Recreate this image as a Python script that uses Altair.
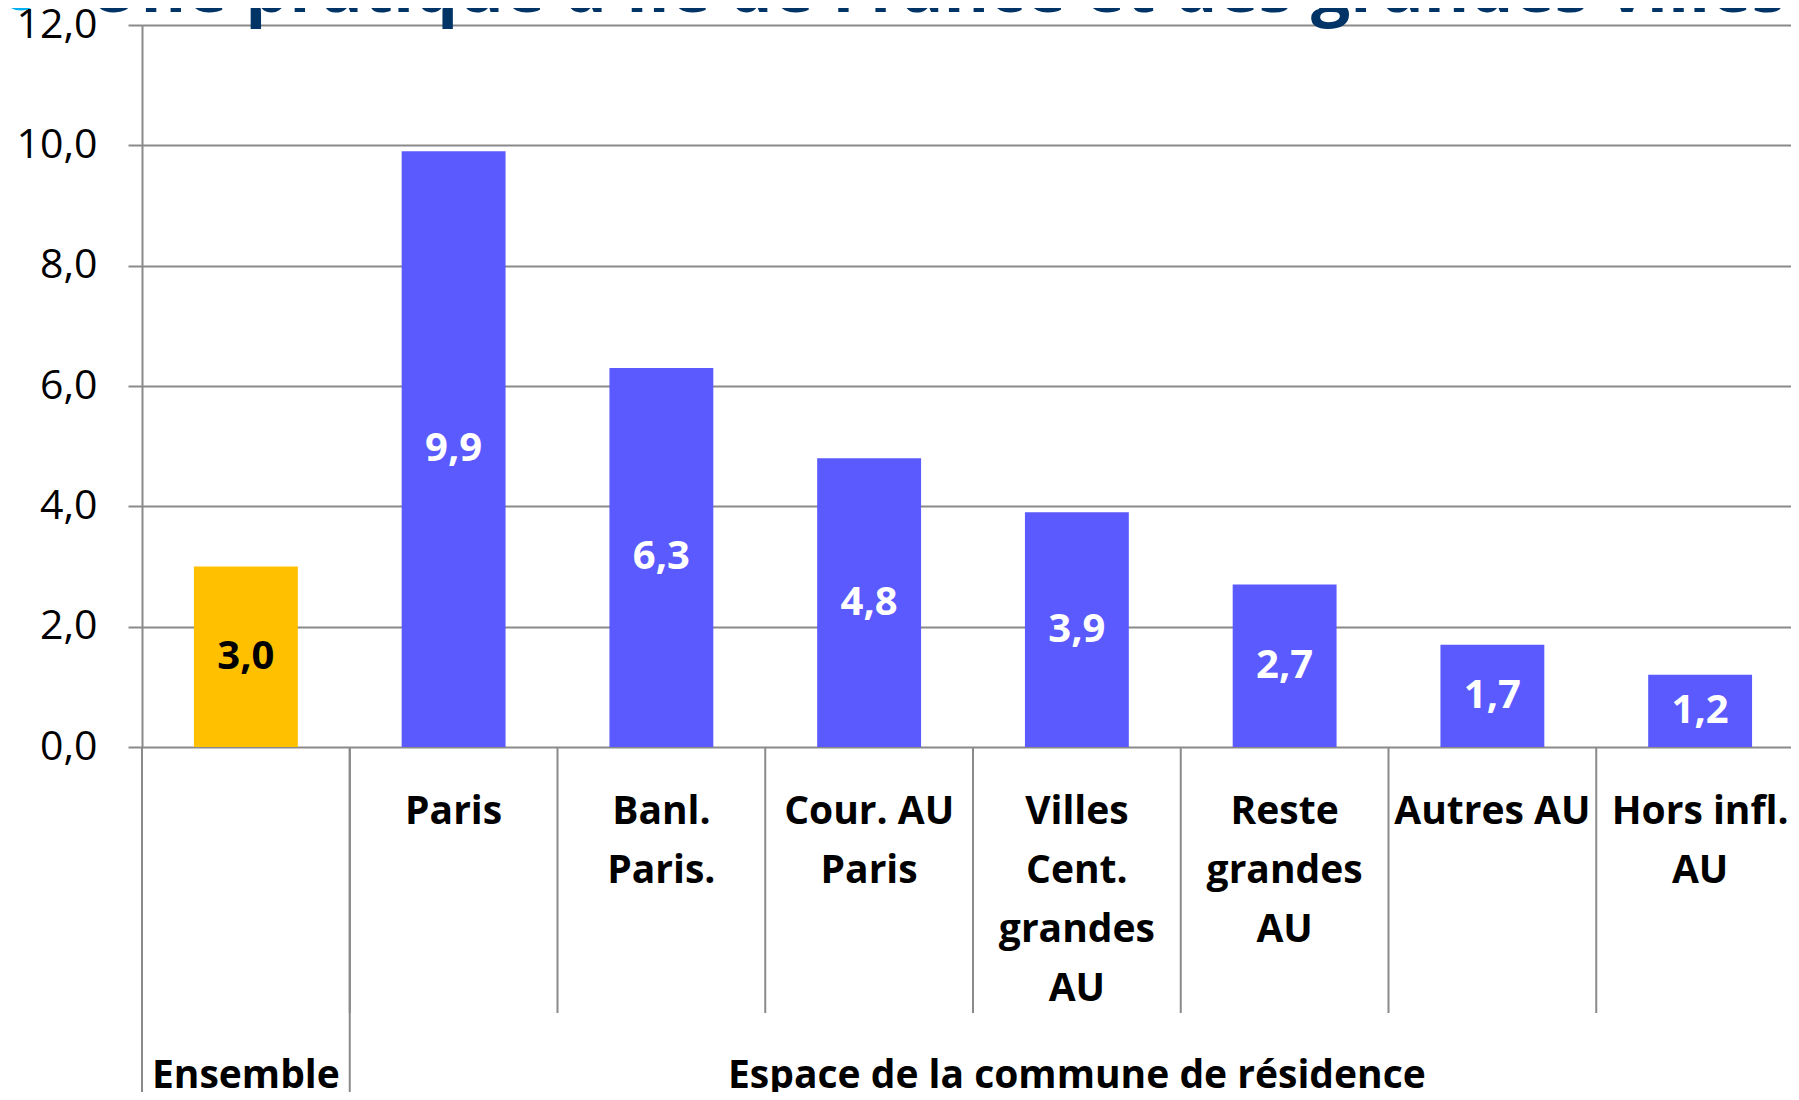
import altair as alt
import pandas as pd

# ---- data ----
categories = ["Ensemble", "Paris", "Banl.|Paris.", "Cour. AU|Paris",
              "Villes|Cent.|grandes|AU", "Reste|grandes|AU", "Autres AU", "Hors infl.|AU"]
values = [3.0, 9.9, 6.3, 4.8, 3.9, 2.7, 1.7, 1.2]
groups = ["Ensemble", "Espace", "Espace", "Espace", "Espace", "Espace", "Espace", "Espace"]
group_titles = ["Ensemble", "Espace de la commune de résidence"]
group_anchor = ["Ensemble", "Villes|Cent.|grandes|AU"]
y_ticks = [0, 2, 4, 6, 8, 10, 12]
title_text = "Une pratique d'Île de France et des grandes villes"

YELLOW = "#FFC000"
BLUE = "#5A5AFF"
GRID = "#8A8A8A"
NAVY = "#003366"
CYAN = "#00B0F0"
FONT = "Open Sans"

df = pd.DataFrame({"cat": categories, "value": values, "group": groups})
df["group_start"] = df["group"] != df["group"].shift()
gdf = pd.DataFrame({"label": group_titles, "cat": group_anchor})
tdf = pd.DataFrame({"title": [title_text]})

W, H = 1662, 722
x_scale = alt.Scale(domain=categories, paddingInner=0, paddingOuter=0)
x_axis = alt.Axis(
    title=None, ticks=False, tickSize=0, domain=False, grid=False,
    labelExpr="datum.label == 'Ensemble' ? '' : split(datum.label, '|')",
    labelFont=FONT, labelFontWeight="bold", labelFontSize=39, labelLineHeight=59,
    labelColor="black", labelPadding=45, labelLimit=600, labelOverlap=False, labelAngle=0,
    labelBaseline="top",
)
y_scale = alt.Scale(domain=[0, 12], nice=False, zero=True)
y_axis = alt.Axis(
    title=None, values=y_ticks,
    labelExpr="replace(format(datum.value, '.1f'), '.', ',')",
    grid=True, gridColor=GRID, gridWidth=2,
    domain=True, domainColor=GRID, domainWidth=2,
    ticks=True, tickColor=GRID, tickWidth=2, tickSize=14,
    labelFont=FONT, labelFontSize=41, labelColor="black", labelPadding=31,
)


def X(**kw):
    return alt.X("cat:N", scale=x_scale, sort=None, axis=x_axis, **kw)


bars = alt.Chart(df).mark_bar(width=alt.RelativeBandSize(0.5)).encode(
    x=X(),
    y=alt.Y("value:Q", scale=y_scale, axis=y_axis),
    color=alt.Color("group:N", scale=alt.Scale(domain=["Ensemble", "Espace"], range=[YELLOW, BLUE]), legend=None),
)

labels = alt.Chart(df).transform_calculate(
    mid="datum.value / 2",
    txt="replace(format(datum.value, '.1f'), '.', ',')",
).mark_text(font=FONT, fontWeight="bold", fontSize=40, align="center", baseline="middle").encode(
    x=X(),
    y=alt.Y("mid:Q", scale=y_scale, axis=y_axis),
    text="txt:N",
    color=alt.condition("datum.group == 'Ensemble'", alt.value("black"), alt.value("white")),
)

seps = alt.Chart(df).mark_rule(color=GRID, strokeWidth=2).encode(
    x=X(bandPosition=0),
    y=alt.value(H),
    y2=alt.value(988),
)

long_seps = alt.Chart(df).transform_filter("datum.group_start").mark_rule(color=GRID, strokeWidth=2).encode(
    x=X(bandPosition=0),
    y=alt.value(H),
    y2=alt.value(1067),
)

group_text = alt.Chart(gdf).mark_text(
    font=FONT, fontWeight="bold", fontSize=39, align="center", baseline="alphabetic", color="black"
).encode(
    x=X(),
    y=alt.value(1063),
    text="label:N",
)

title = alt.Chart(tdf).mark_text(
    font=FONT, fontWeight="bold", fontSize=69.5, align="left", baseline="alphabetic", color=NAVY
).encode(
    x=alt.value(-54),
    y=alt.value(-13),
    text="title:N",
)

bullet = alt.Chart(tdf).mark_point(
    shape="circle", filled=False, size=1600, color=CYAN, strokeWidth=3, opacity=1
).encode(
    x=alt.value(-121),
    y=alt.value(-36),
)

chart = alt.layer(bars, seps, long_seps, labels, group_text, title, bullet).properties(
    width=W, height=H,
    autosize=alt.AutoSizeParams(type="none"),
    padding={"left": 134, "top": 17, "right": -13, "bottom": 345},
    background="white",
).configure_view(strokeWidth=0)

chart.save("out.html", embed_options={"renderer": "svg", "actions": False})
